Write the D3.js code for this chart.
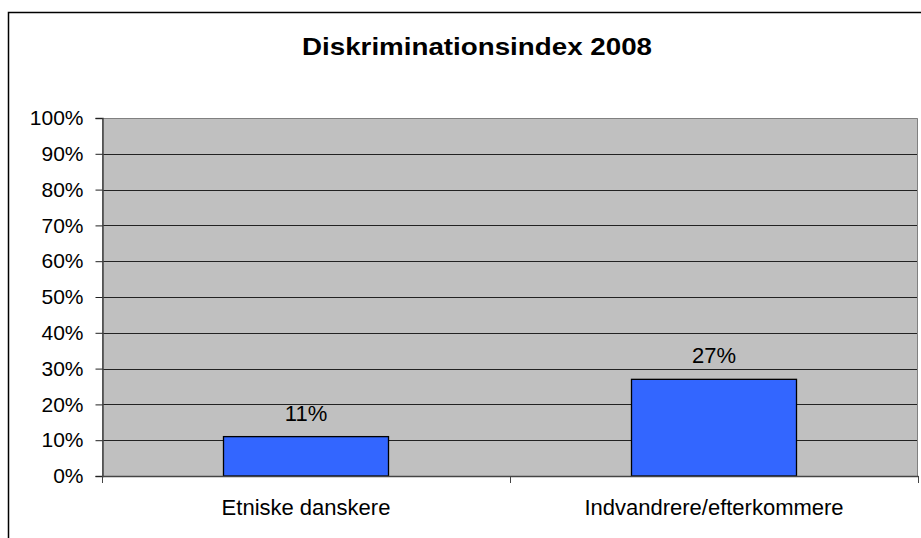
<!DOCTYPE html>
<html><head><meta charset="utf-8">
<script src="https://cdn.jsdelivr.net/npm/d3@7"></script>
<style>body{margin:0;background:#fff}svg{display:block}text{font-family:"Liberation Sans",Arial,sans-serif;fill:#000}</style>
</head><body><svg id="c" width="921" height="538"></svg>
<script>
const title = "Diskriminationsindex 2008";
const categories = ["Etniske danskere", "Indvandrere/efterkommere"];
const values = [0.11, 0.27];
const yTicks = [0,0.1,0.2,0.3,0.4,0.5,0.6,0.7,0.8,0.9,1.0];

const svg = d3.select("#c");
const L = 102, R = 918, T = 118, B = 476;
// outer chart border
svg.append("path").attr("d", `M8.5,538 V12.5 H921`).attr("fill","none").attr("stroke","#000").attr("stroke-width",1.5);

const x = d3.scaleBand().domain(categories).range([L,R]).paddingInner(0).paddingOuter(0);
const y = d3.scaleLinear().domain([0,1]).range([B,T]);

svg.append("rect").attr("x",L).attr("y",T).attr("width",R-L).attr("height",B-T).attr("fill","#c0c0c0");

// gridlines
svg.append("g").selectAll("line").data(yTicks.filter(d=>d>0 && d<1)).join("line")
  .attr("x1",L).attr("x2",R).attr("y1",d=>Math.round(y(d))+0.5).attr("y2",d=>Math.round(y(d))+0.5)
  .attr("stroke","#222").attr("stroke-width",1);

// plot border
svg.append("path").attr("d",`M${L+0.5},${B} V${T+0.5} H${R-0.5} V${B}`).attr("fill","none").attr("stroke","#808080").attr("stroke-width",1);

// y axis
const yAxis = d3.axisLeft(y).tickValues(yTicks).tickFormat(d3.format(".0%")).tickSize(7).tickPadding(12);
const gy = svg.append("g").attr("transform",`translate(${L+0.5},0)`).call(yAxis);
gy.select(".domain").attr("stroke","#444").attr("stroke-width",1.5);
gy.selectAll(".tick line").attr("stroke","#222");
gy.selectAll(".tick text").attr("font-size","21px").attr("font-family",'"Liberation Sans",Arial,sans-serif').attr("fill","#000");

// bars
const bw = 165;
svg.append("g").selectAll("rect").data(values).join("rect")
  .attr("x",(d,i)=>x(categories[i])+x.bandwidth()/2-bw/2)
  .attr("width",bw)
  .attr("y",d=>y(d))
  .attr("height",d=>B-y(d))
  .attr("fill","#3366ff").attr("stroke","#000").attr("stroke-width",1.3);

// x axis
const xAxis = d3.axisBottom(x).tickSize(0).tickPadding(0).tickFormat(()=> "");
const gx = svg.append("g").attr("transform",`translate(0,${B})`).call(xAxis);
gx.select(".domain").attr("stroke","#444").attr("stroke-width",1.5);
// category boundary ticks
const bounds = categories.map(c=>x(c)).concat([x(categories[categories.length-1])+x.bandwidth()]);
svg.append("g").selectAll("line").data(bounds).join("line")
  .attr("x1",d=>d+0.5).attr("x2",d=>d+0.5).attr("y1",B).attr("y2",B+7)
  .attr("stroke","#444").attr("stroke-width",1);
svg.append("g").selectAll("text").data(categories).join("text")
  .attr("x",d=>x(d)+x.bandwidth()/2).attr("y",515)
  .attr("text-anchor","middle").attr("font-size","22px").text(d=>d);

// value labels
svg.append("g").selectAll("text").data(values).join("text")
  .attr("x",(d,i)=>x(categories[i])+x.bandwidth()/2).attr("y",d=>y(d)-16)
  .attr("text-anchor","middle").attr("font-size","22px").text(d=>d3.format(".0%")(d));

// title
svg.append("text").attr("x",477).attr("y",55).attr("text-anchor","middle")
  .attr("font-size","23px").attr("font-weight","bold")
  .attr("textLength",350).attr("lengthAdjust","spacingAndGlyphs").text(title);
</script></body></html>
